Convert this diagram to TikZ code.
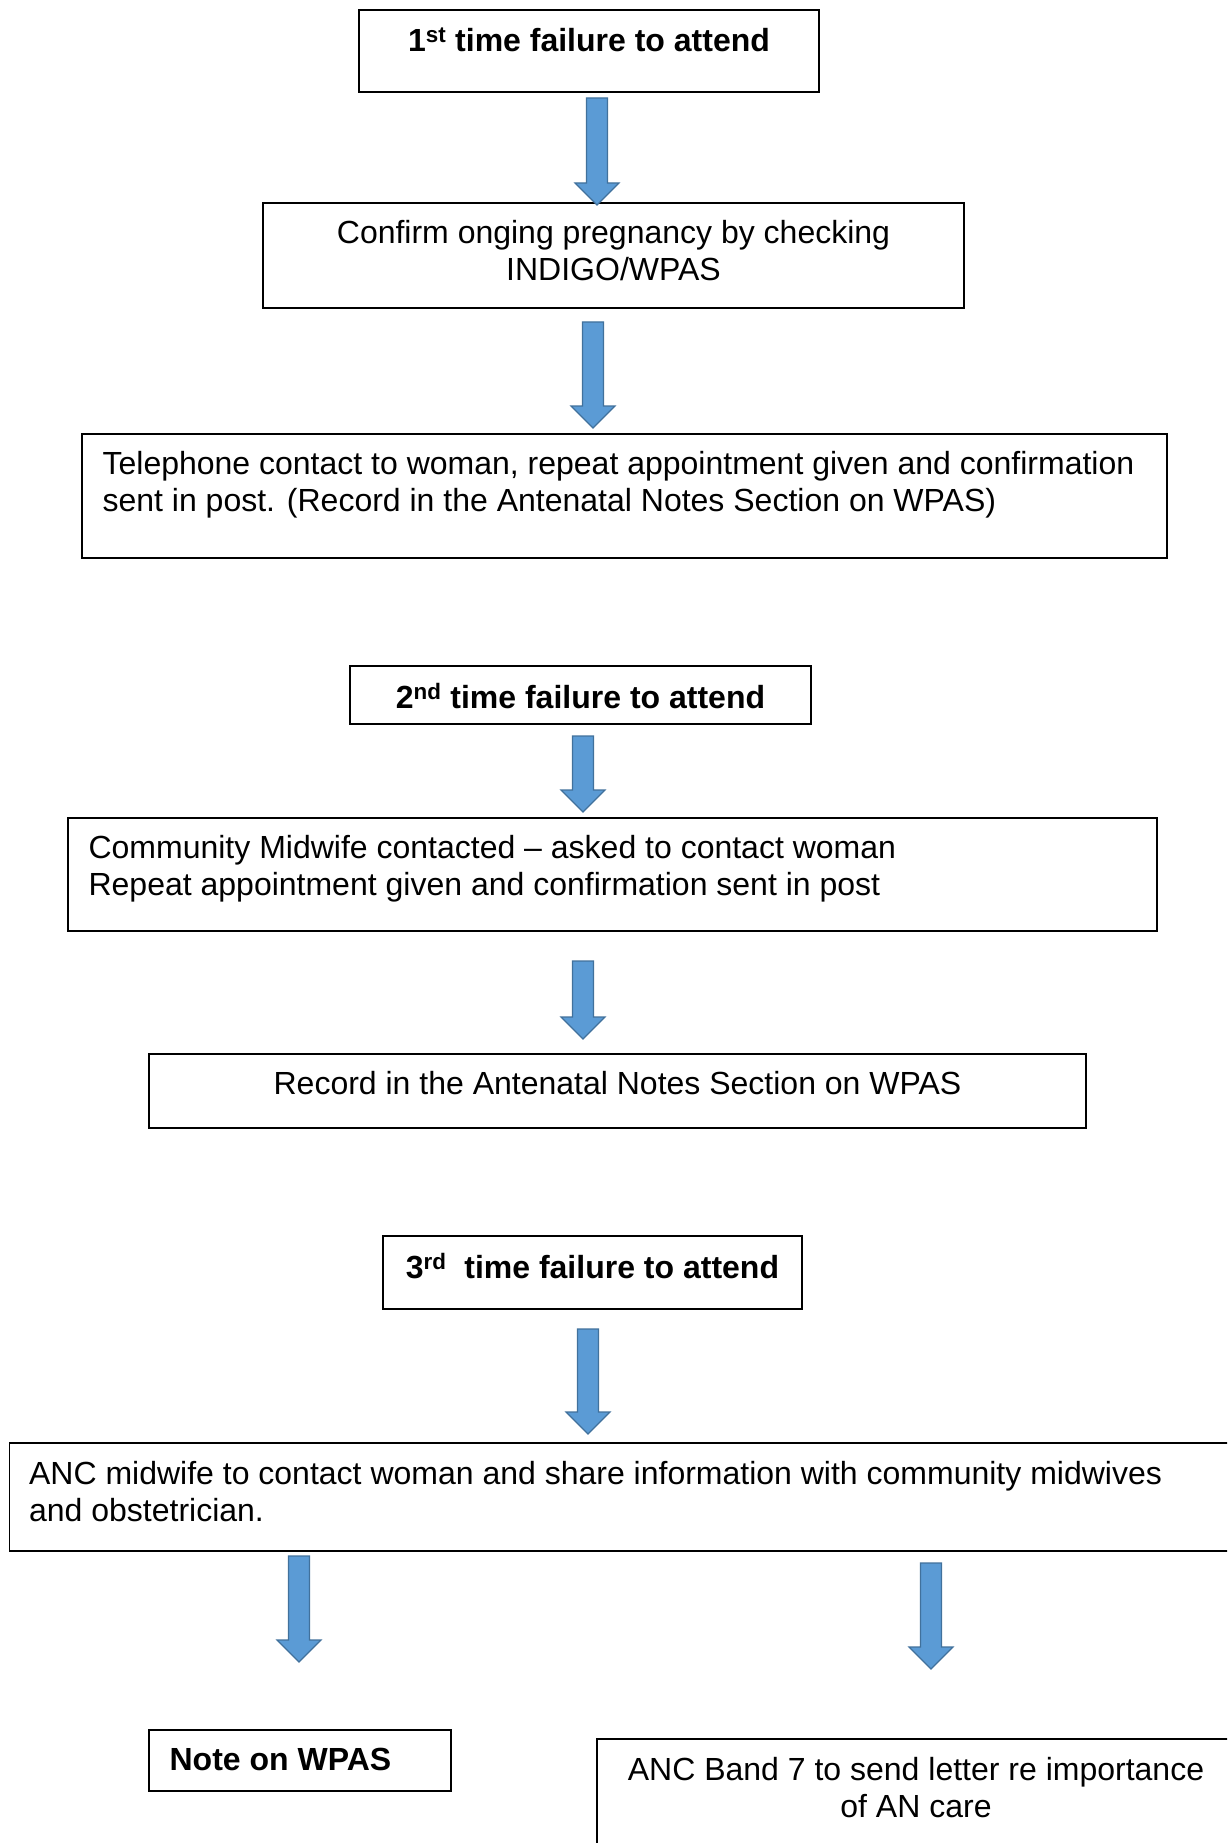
\documentclass[tikz,border=0pt]{standalone}
\usepackage{fontspec}
\setmainfont{Liberation Sans}
\usetikzlibrary{positioning,calc}
\definecolor{arrowfill}{HTML}{5B9BD5}
\definecolor{arrowedge}{HTML}{41719C}

\begin{document}
\begin{tikzpicture}[x=1pt,y=-1pt,
    box/.style={draw,line width=1.2pt,inner sep=0pt,fill=white},
    txt/.style={inner sep=0pt,font=\fontsize{32}{36.5}\selectfont},
    bold/.style={inner sep=0pt,font=\fontsize{32}{36.5}\selectfont\bfseries},
    flow/.style={draw=arrowedge,fill=arrowfill,line width=1.2pt,
      to path={let \p1=(\tikztostart), \p2=(\tikztotarget) in
        (\x1-10.5pt,\y1) -- (\x1+10.5pt,\y1) -- (\x1+10.5pt,\y2+22pt)
        -- (\x1+22pt,\y2+22pt) -- (\x1,\y2) -- (\x1-22pt,\y2+22pt)
        -- (\x1-10.5pt,\y2+22pt) -- cycle}}]
  \clip (0,0) rectangle (1227,1843);
  \fill[white] (0,0) rectangle (1227,1843);

  % first failure
  \node[box,minimum width=460pt,minimum height=82pt] (first) at (589,51) {};
  \node[bold] (t-first) [below=18pt of first.north] {1\textsuperscript{st} time failure to attend};
  \node[box,minimum width=701pt,minimum height=105pt] (confirm) at (613.5,255.5) {};
  \node[txt,align=center] (t-confirm) [below=18pt of confirm.north] {Confirm onging pregnancy by checking\\INDIGO/WPAS};
  \node[box,minimum width=1085pt,minimum height=124pt] (phone) at (624.5,496) {};
  \node[txt,align=left,anchor=north west] (t-phone) [below right=18pt and 21pt of phone.north west]
    {Telephone contact to woman, repeat appointment given and confirmation\\sent in post. (Record in the Antenatal Notes Section on WPAS)};

  % second failure
  \node[box,minimum width=461pt,minimum height=58pt] (second) at (580.5,695) {};
  \node[bold] (t-second) [below=18pt of second.north] {2\textsuperscript{nd} time failure to attend};
  \node[box,minimum width=1089pt,minimum height=113pt] (cmw) at (612.5,874.5) {};
  \node[txt,align=left,anchor=north west] (t-cmw) [below right=18pt and 21pt of cmw.north west]
    {Community Midwife contacted -- asked to contact woman\\Repeat appointment given and confirmation sent in post};
  \node[box,minimum width=937pt,minimum height=74pt] (record) at (617.5,1091) {};
  \node[txt] (t-record) [below=18pt of record.north] {Record in the Antenatal Notes Section on WPAS};

  % third failure
  \node[box,minimum width=419pt,minimum height=73pt] (third) at (592.5,1272.5) {};
  \node[bold] (t-third) [below=18pt of third.north] {3\textsuperscript{rd}\ \ time failure to attend};
  \node[box,minimum width=1230pt,minimum height=108pt] (anc) at (624.5,1497) {};
  \node[txt,align=left,anchor=north west] (t-anc) [below right=19pt and 20pt of anc.north west]
    {ANC midwife to contact woman and share information with community midwives\\and obstetrician.};
  \node[box,minimum width=302pt,minimum height=61pt] (note) at (300,1760.5) {};
  \node[bold,anchor=north west] (t-note) [below right=19pt and 21pt of note.north west] {Note on WPAS};
  \node[box,minimum width=638pt,minimum height=140pt] (letter) at (916,1809) {};
  \node[txt,align=center] (t-letter) [below=19pt of letter.north] {ANC Band 7 to send letter re importance\\of AN care};

  % block arrows
  \coordinate (a1s) at (597,98);   \coordinate (a1e) at (597,205);
  \coordinate (a2s) at (593,322);  \coordinate (a2e) at (593,428);
  \coordinate (a3s) at (583,736);  \coordinate (a3e) at (583,812);
  \coordinate (a4s) at (583,961);  \coordinate (a4e) at (583,1039);
  \coordinate (a5s) at (588,1329); \coordinate (a5e) at (588,1434);
  \coordinate (a6s) at (299,1556); \coordinate (a6e) at (299,1662);
  \coordinate (a7s) at (931,1563); \coordinate (a7e) at (931,1669);
  \foreach \i in {1,...,7}
    \draw[flow] (a\i s) to (a\i e);
\end{tikzpicture}
\end{document}
